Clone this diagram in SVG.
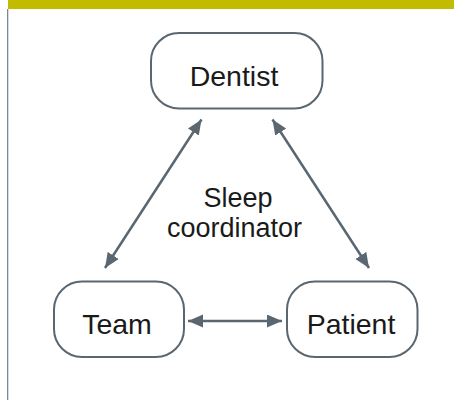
<svg xmlns="http://www.w3.org/2000/svg" width="454" height="400" viewBox="0 0 454 400">
  <style>
    .node rect { fill: #ffffff; stroke: #5b6770; stroke-width: 2; }
    .node text, .label { font-family: "Liberation Sans", Arial, sans-serif; font-size: 28.5px; fill: #1a1a1a; text-anchor: middle; }
    .label { font-size: 27px; }
    .conn line { stroke: #5b6770; stroke-width: 2.5; marker-start: url(#head); marker-end: url(#head); }
  </style>
  <defs>
    <marker id="head" markerUnits="userSpaceOnUse" markerWidth="16" markerHeight="14" refX="15" refY="6.5" orient="auto-start-reverse">
      <path d="M0,0 L15,6.5 L0,13 Z" fill="#5b6770"/>
    </marker>
  </defs>

  <!-- header band and side rule -->
  <rect x="8" y="0" width="446" height="9" fill="#c2bc00"/>
  <rect x="7" y="9" width="1.3" height="391" fill="#7d8891"/>

  <g id="dentist" class="node">
    <rect x="151" y="33" width="171.5" height="75.5" rx="28"/>
    <text x="234" y="85.5">Dentist</text>
  </g>
  <g id="team" class="node">
    <rect x="54" y="281.5" width="130" height="75.5" rx="28"/>
    <text x="117" y="333.5">Team</text>
  </g>
  <g id="patient" class="node">
    <rect x="287" y="281.5" width="130.5" height="75.5" rx="28"/>
    <text x="351" y="333.5">Patient</text>
  </g>

  <g id="center-label">
    <text class="label" x="238" y="206.5">Sleep</text>
    <text class="label" x="234.5" y="237">coordinator</text>
  </g>

  <g id="connectors" class="conn">
    <line x1="105" y1="268" x2="201.5" y2="119.5"/>
    <line x1="272.5" y1="119.5" x2="369" y2="268"/>
    <line x1="188" y1="321" x2="282" y2="321"/>
  </g>
</svg>
